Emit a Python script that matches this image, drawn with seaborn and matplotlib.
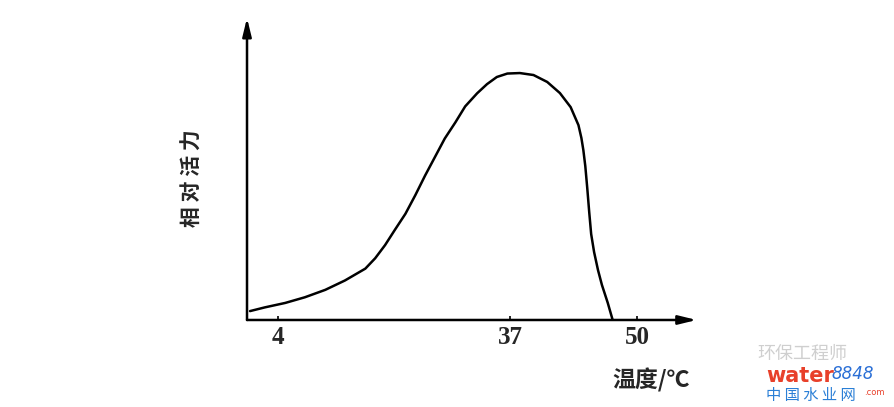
import numpy as np
import pandas as pd
import matplotlib
matplotlib.use("Agg")
import matplotlib.pyplot as plt
import seaborn as sns

# temperature (°C) vs relative activity (peak = 100)
temperature = [0.0, 2.1, 5.0, 7.8, 10.7, 13.5, 16.4, 17.8, 19.2, 20.6, 22.1,
               23.5, 24.9, 26.3, 27.7, 29.2, 30.6, 32.3, 33.7, 35.1, 36.6,
               38.0, 39.4, 40.8, 42.1, 43.2, 44.0, 44.3, 44.5, 44.7, 44.9,
               45.1, 45.3, 45.6, 46.0, 46.4, 47.0, 47.5]
activity = [3.6, 5.1, 6.9, 9.2, 12.2, 16.0, 20.8, 25.0, 30.3, 36.5, 43.0,
            50.5, 58.5, 66.0, 73.5, 80.0, 86.5, 91.8, 95.5, 98.4, 99.8,
            100.0, 99.2, 96.4, 91.9, 86.2, 78.9, 73.7, 68.8, 62.3, 53.4,
            43.7, 34.8, 27.5, 20.2, 14.2, 6.9, 0.0]
tick_values = [4, 37, 50]
tick_labels = ["4", "37", "50"]

df = pd.DataFrame({"temp": temperature, "act": activity})

sns.set_theme(style="white")
plt.rcParams["font.family"] = ["Liberation Serif", "Noto Sans CJK SC", "DejaVu Sans"]


# the sketch's axis is not linear: 0-37 is squeezed compared with 37-50
def fwd(t):
    t = np.asarray(t, dtype=float)
    return np.where(t < 37, 250 + 7.03 * t, 510 + 9.77 * (t - 37))


def inv(u):
    u = np.asarray(u, dtype=float)
    return np.where(u < 510, (u - 250) / 7.03, 37 + (u - 510) / 9.77)


fig = plt.figure(figsize=(8.94, 4.07), dpi=100)
ax = fig.add_axes([0.2763, 0.2138, 0.503, 0.742])
ax.set_xscale("function", functions=(fwd, inv))

sns.lineplot(ax=ax, data=df, x="temp", y="act", color="black", linewidth=1.8,
             sort=False, estimator=None)
ax.lines[0].set_solid_joinstyle("round")

ax.set_xlim(-0.43, 56.1)
ax.set_ylim(0, 122.3)

for s in ax.spines.values():
    s.set_visible(False)

# axes drawn as arrows
arrow = dict(arrowstyle="-|>,head_length=0.9,head_width=0.22", color="black",
             lw=1.8, shrinkA=0, shrinkB=0)
ax.annotate("", xy=(1, 0), xytext=(0, 0), xycoords="axes fraction",
            textcoords="axes fraction", arrowprops=arrow, annotation_clip=False)
ax.annotate("", xy=(0, 1), xytext=(0, 0), xycoords="axes fraction",
            textcoords="axes fraction", arrowprops=arrow, annotation_clip=False)

ax.set_xticks(tick_values)
ax.set_xticklabels(tick_labels, fontsize=18, fontweight="bold",
                   family=["Liberation Serif"])
ax.set_yticks([])
ax.tick_params(axis="x", direction="in", length=3, width=1.2, pad=4,
               color="black", bottom=True)
ax.minorticks_off()

ax.set_ylabel("相 对 活 力", fontsize=15, fontweight="bold",
              family=["Noto Sans CJK SC"], labelpad=0)
ax.yaxis.set_label_coords(-0.098, 0.47)
ax.set_xlabel("温度/℃", fontsize=16.5, fontweight="bold",
              family=["Noto Sans CJK SC", "DejaVu Sans"])
ax.xaxis.set_label_coords(0.898, -0.16)

# watermark in the corner
fig.text(0.847, 0.13, "环保工程师", fontsize=13, color="#cfcfcf",
         family=["Noto Sans CJK SC"], ha="left", va="center")
fig.text(0.857, 0.075, "water", fontsize=15, fontweight="bold", color="#e8402a",
         family=["DejaVu Sans"], ha="left", va="center")
fig.text(0.93, 0.08, "8848", fontsize=12, style="italic", color="#2a6fd6",
         family=["DejaVu Sans"], ha="left", va="center")
fig.text(0.99, 0.035, ".com", fontsize=6, color="#e8402a",
         family=["DejaVu Sans"], ha="right", va="center")
fig.text(0.857, 0.028, "中 国 水 业 网", fontsize=11, color="#2a7fd6",
         family=["Noto Sans CJK SC"], ha="left", va="center")

fig.savefig("out.png", dpi=100, facecolor="white")
